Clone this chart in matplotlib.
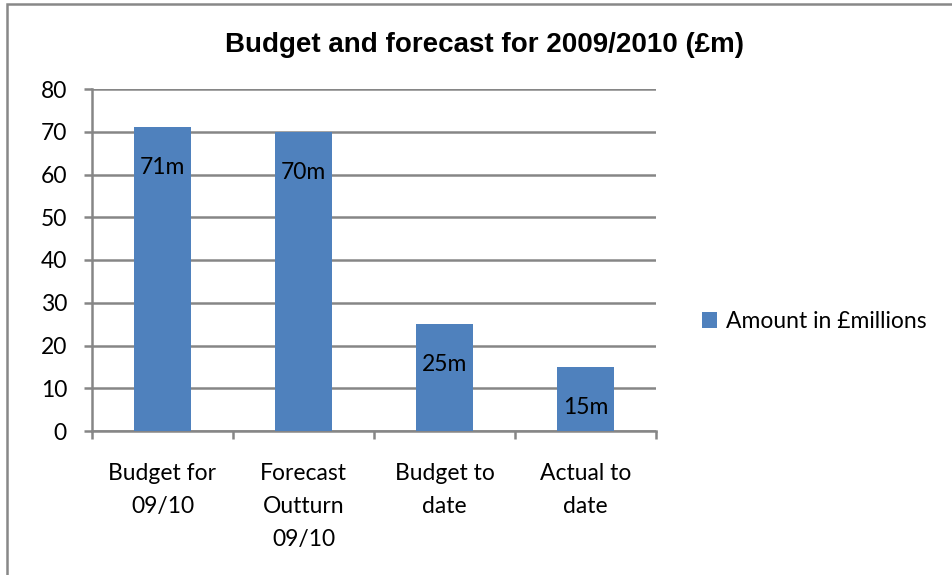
import matplotlib.pyplot as plt
from matplotlib.patches import Rectangle

categories = ["Budget for\n09/10", "Forecast\nOutturn\n09/10", "Budget to\ndate", "Actual to\ndate"]
amounts = [71, 70, 25, 15]
value_labels = ["71m", "70m", "25m", "15m"]

bar_color = "#4F81BD"
grid_color = "#868686"
font = "Lato"
fs = 16.5

fig = plt.figure(figsize=(9.52, 5.75), dpi=100)
ax = fig.add_axes([92 / 952, 1 - 431 / 575, (656 - 92) / 952, (431 - 89) / 575])

x = list(range(len(categories)))
bars = ax.bar(x, amounts, width=0.4, color=bar_color, zorder=3,
              label="Amount in £millions")

for b, lab in zip(bars, value_labels):
    ax.annotate(lab, (b.get_x() + b.get_width() / 2, b.get_height()),
                xytext=(0, -29), textcoords="offset points",
                ha="center", va="center", fontsize=fs, family=font, zorder=4)

ax.set_xlim(-0.5, len(categories) - 0.5)
ax.set_ylim(0, 80)
ax.set_yticks(range(0, 81, 10))
ax.yaxis.grid(True, color=grid_color, linewidth=1.8, zorder=0)
ax.tick_params(axis="y", length=6, width=1.8, color=grid_color, pad=12,
               labelsize=fs)
for t in ax.get_yticklabels():
    t.set_family(font)

# category tick marks sit between bars, labels are centred on bars
ax.set_xticks([i - 0.5 for i in range(len(categories) + 1)])
ax.set_xticklabels([])
ax.tick_params(axis="x", length=6, width=1.8, color=grid_color)
for i, c in enumerate(categories):
    ax.text(i, -7.6, c, ha="center", va="top", fontsize=fs, family=font,
            linespacing=1.68)

for s in ["top", "right"]:
    ax.spines[s].set_visible(False)
for s in ["left", "bottom"]:
    ax.spines[s].set_color(grid_color)
    ax.spines[s].set_linewidth(1.8)

fig.text(485 / 952, 1 - 45 / 575, "Budget and forecast for 2009/2010 (£m)",
         ha="center", va="center", fontsize=20, fontweight="bold",
         family="Liberation Sans")

leg = ax.legend(loc="center left", bbox_to_anchor=(1.045, 0.32), frameon=False,
                prop={"family": font, "size": fs}, handlelength=0.65,
                handleheight=0.65, handletextpad=0.4)

# chart border
fig.patches.append(Rectangle((7 / 952, -0.1), 1.5, 1.1 - 4 / 575,
                             transform=fig.transFigure, fill=False,
                             edgecolor="#888888", linewidth=1.8))

fig.savefig("out.png", dpi=100)
